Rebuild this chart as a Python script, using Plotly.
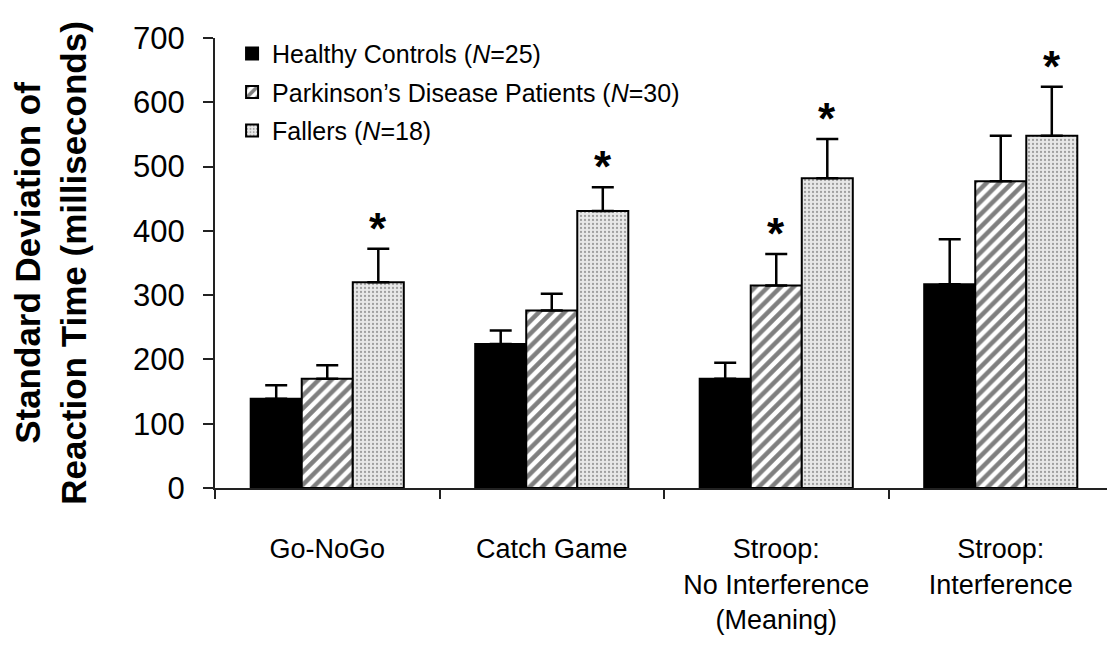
import plotly.graph_objects as go

categories = ["Go-NoGo", "Catch Game", "Stroop:<br>No Interference<br>(Meaning)", "Stroop:<br>Interference"]
series_names = ["Healthy Controls (<i>N</i>=25)", "Parkinson\u2019s Disease Patients (<i>N</i>=30)", "Fallers (<i>N</i>=18)"]
hc = [139, 224, 170, 317]
hc_err = [21, 21, 25, 70]
pd_vals = [170, 276, 315, 477]
pd_err = [21, 26, 49, 71]
fallers = [320, 431, 482, 548]
fallers_err = [52, 37, 61, 76]
sig_pd = [False, False, True, False]
sig_fallers = [True, True, True, True]
y_ticks = [0, 100, 200, 300, 400, 500, 600, 700]

FONT = "Arial, Liberation Sans, Helvetica, sans-serif"
BARGAP = 0.318

def err(arr):
    return dict(type="data", array=arr, arrayminus=[0] * len(arr), symmetric=False,
                color="black", thickness=2.5, width=11)

fig = go.Figure()
fig.add_trace(go.Bar(x=categories, y=hc, name=series_names[0], legendgroup="a",
                     marker=dict(color="black", line=dict(color="black", width=2)),
                     error_y=err(hc_err)))
fig.add_trace(go.Bar(x=categories, y=pd_vals, name=series_names[1], legendgroup="b",
                     marker=dict(color="white", line=dict(color="black", width=2),
                                 pattern=dict(shape="/", fgcolor="black", bgcolor="white",
                                              size=9, solidity=0.5)),
                     error_y=err(pd_err)))
fig.add_trace(go.Bar(x=categories, y=fallers, name=series_names[2], legendgroup="c",
                     marker=dict(color="#e6e6e6", line=dict(color="black", width=2),
                                 pattern=dict(shape=".", fgcolor="#555555", bgcolor="#e8e8e8",
                                              size=4, solidity=0.25)),
                     error_y=err(fallers_err)))

bw = (1 - BARGAP) / 3
annotations = []
star_font = dict(size=44, color="black", family=FONT)
for i in range(len(categories)):
    if sig_pd[i]:
        annotations.append(dict(x=i, y=pd_vals[i] + pd_err[i], xref="x", yref="y",
                                text="<b>*</b>", showarrow=False, yanchor="bottom", yshift=-6,
                                font=star_font))
    if sig_fallers[i]:
        annotations.append(dict(x=i + bw, y=fallers[i] + fallers_err[i], xref="x", yref="y",
                                text="<b>*</b>", showarrow=False, yanchor="bottom", yshift=-6,
                                font=star_font))

fig.update_layout(
    width=1107, height=646,
    margin=dict(l=207, r=2, t=30, b=166, autoexpand=False),
    paper_bgcolor="white", plot_bgcolor="white",
    barmode="group", bargap=BARGAP, bargroupgap=0,
    font=dict(family=FONT, color="black"),
    showlegend=True,
    legend=dict(x=0.019, y=1.016, xanchor="left", yanchor="top",
                font=dict(size=25, color="black", family=FONT),
                bgcolor="rgba(0,0,0,0)", traceorder="grouped", tracegroupgap=3,
                itemwidth=30),
    annotations=annotations,
)
fig.update_xaxes(type="category", showline=True, linecolor="#222", linewidth=2,
                 ticks="outside", tickson="boundaries", ticklen=9, tickwidth=2, tickcolor="#222",
                 tickfont=dict(size=27, color="black", family=FONT), ticklabelstandoff=36,
                 showgrid=False, zeroline=False, automargin=False)
fig.update_yaxes(range=[0, 700], tickvals=y_ticks, showline=True, linecolor="#222", linewidth=2,
                 ticks="outside", ticklen=10, tickwidth=2, tickcolor="#222",
                 tickfont=dict(size=31, color="black", family=FONT), ticklabelstandoff=12,
                 showgrid=False, zeroline=False, automargin=False,
                 title=dict(text="<b>Standard Deviation of<br>Reaction Time (milliseconds)</b>",
                            font=dict(size=35, color="black", family=FONT), standoff=43))

fig.write_html("out.html")
